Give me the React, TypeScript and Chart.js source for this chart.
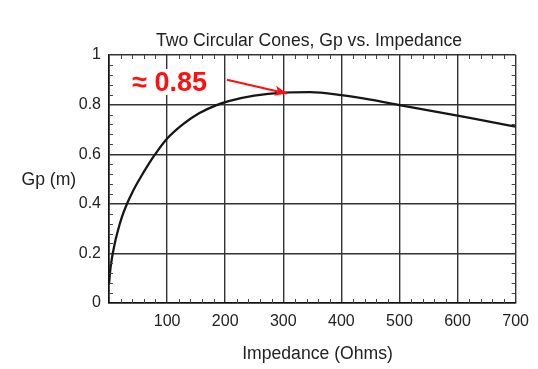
import React, { useEffect, useRef } from "react";
import { Chart, registerables } from "chart.js";

Chart.register(...registerables);

// Impedance (Ohms) and Gp (m)
const impedance = [0, 2, 5, 9, 14, 22, 31, 42, 54, 66, 79, 99, 127, 155, 184, 206, 250, 300, 346, 400, 450, 500, 550, 600, 650, 700];
const gp = [0.075, 0.13, 0.18, 0.23, 0.28, 0.345, 0.4, 0.455, 0.505, 0.552, 0.598, 0.66, 0.72, 0.765, 0.797, 0.814, 0.836, 0.848, 0.85, 0.838, 0.82, 0.798, 0.777, 0.756, 0.733, 0.711];

const titleText = "Two Circular Cones, Gp vs. Impedance";
const xTitle = "Impedance (Ohms)";
const yTitle = "Gp (m)";
const annotationText = "\u2248 0.85";
// annotation anchors in data units
const annotationLabelAt = [40, 0.855];
const arrowFrom = [203, 0.9];
const arrowTo = [306, 0.845];

const FONT = "Arial, 'Liberation Sans', Helvetica, sans-serif";

const decorPlugin = {
  id: "decor",
  afterDatasetsDraw(chart: any) {
    const { ctx, chartArea, scales } = chart;
    const xs = scales.x;
    const ys = scales.y;
    ctx.save();
    // minor ticks
    ctx.strokeStyle = "#444";
    ctx.lineWidth = 1;
    ctx.beginPath();
    for (let v = 20; v < 700; v += 20) {
      if (v % 100 === 0) continue;
      const px = Math.round(xs.getPixelForValue(v)) + 0.5;
      ctx.moveTo(px, chartArea.bottom);
      ctx.lineTo(px, chartArea.bottom - 4);
      ctx.moveTo(px, chartArea.top);
      ctx.lineTo(px, chartArea.top + 4);
    }
    for (let i = 1; i < 25; i++) {
      if (i % 5 === 0) continue;
      const py = Math.round(ys.getPixelForValue(i * 0.04)) + 0.5;
      ctx.moveTo(chartArea.left, py);
      ctx.lineTo(chartArea.left + 4, py);
      ctx.moveTo(chartArea.right, py);
      ctx.lineTo(chartArea.right - 4, py);
    }
    ctx.stroke();

    // annotation label
    ctx.font = `bold 27px ${FONT}`;
    ctx.textAlign = "left";
    ctx.textBaseline = "alphabetic";
    const lx = xs.getPixelForValue(annotationLabelAt[0]);
    const ly = ys.getPixelForValue(annotationLabelAt[1]);
    const w = ctx.measureText(annotationText).width;
    ctx.fillStyle = "#ffffff";
    ctx.fillRect(lx - 2, ly - 22, w + 4, 26);
    ctx.fillStyle = "#ff1010";
    ctx.fillText(annotationText, lx, ly);

    // arrow
    const ax0 = xs.getPixelForValue(arrowFrom[0]);
    const ay0 = ys.getPixelForValue(arrowFrom[1]);
    const ax1 = xs.getPixelForValue(arrowTo[0]);
    const ay1 = ys.getPixelForValue(arrowTo[1]);
    const ang = Math.atan2(ay1 - ay0, ax1 - ax0);
    ctx.strokeStyle = "#ff1010";
    ctx.lineWidth = 2;
    ctx.beginPath();
    ctx.moveTo(ax0, ay0);
    ctx.lineTo(ax1, ay1);
    ctx.stroke();
    ctx.fillStyle = "#ff1010";
    ctx.beginPath();
    ctx.moveTo(ax1, ay1);
    ctx.lineTo(ax1 - 13 * Math.cos(ang - 0.4), ay1 - 13 * Math.sin(ang - 0.4));
    ctx.lineTo(ax1 - 9 * Math.cos(ang), ay1 - 9 * Math.sin(ang));
    ctx.lineTo(ax1 - 13 * Math.cos(ang + 0.4), ay1 - 13 * Math.sin(ang + 0.4));
    ctx.closePath();
    ctx.fill();

    // titles
    ctx.fillStyle = "#222";
    ctx.font = `17.6px ${FONT}`;
    ctx.textAlign = "center";
    ctx.fillText(titleText, chartArea.left + 200, chartArea.top - 9.5);
    ctx.fillText(xTitle, chartArea.left + 208.5, chartArea.bottom + 56);
    ctx.textAlign = "left";
    ctx.fillText(yTitle, 21.5, 185);
    ctx.restore();
  },
};

export default function App() {
  const ref = useRef<HTMLCanvasElement | null>(null);
  useEffect(() => {
    if (!ref.current) return;
    const chart = new Chart(ref.current, {
      type: "scatter",
      data: {
        datasets: [
          {
            data: impedance.map((x, i) => ({ x, y: gp[i] })),
            showLine: true,
            borderColor: "#161616",
            borderWidth: 2.3,
            pointRadius: 0,
            cubicInterpolationMode: "monotone",
            fill: false,
          },
        ],
      },
      options: {
        responsive: false,
        animation: false,
        layout: { padding: { left: 0, right: 22, top: 55, bottom: 0 } },
        plugins: { legend: { display: false }, tooltip: { enabled: false }, title: { display: false } },
        scales: {
          x: {
            type: "linear",
            min: 0,
            max: 700,
            afterFit: (s: any) => { s.height = 66; },
            ticks: {
              stepSize: 100,
              padding: 9,
              color: "#222",
              font: { family: FONT, size: 16 },
              maxRotation: 0,
              callback: (v: any) => (v === 0 ? "" : String(v)),
            },
            grid: { color: "#333", lineWidth: 1.4, drawTicks: false },
            border: { color: "#111", width: 1.6 },
          },
          y: {
            min: 0,
            max: 1,
            afterFit: (s: any) => { s.width = 109; },
            ticks: {
              stepSize: 0.2,
              padding: 8,
              color: "#222",
              font: { family: FONT, size: 16 },
              callback: (v: any) => String(Math.round(v * 10) / 10),
            },
            grid: { color: "#333", lineWidth: 1.4, drawTicks: false },
            border: { color: "#111", width: 1.6 },
          },
        },
      },
      plugins: [decorPlugin],
    } as any);
    return () => chart.destroy();
  }, []);
  return (
    <div style={{ position: "absolute", left: 0, top: 0, width: 538, height: 369, background: "#fff" }}>
      <canvas ref={ref} width={538} height={369} style={{ display: "block" }} />
    </div>
  );
}
